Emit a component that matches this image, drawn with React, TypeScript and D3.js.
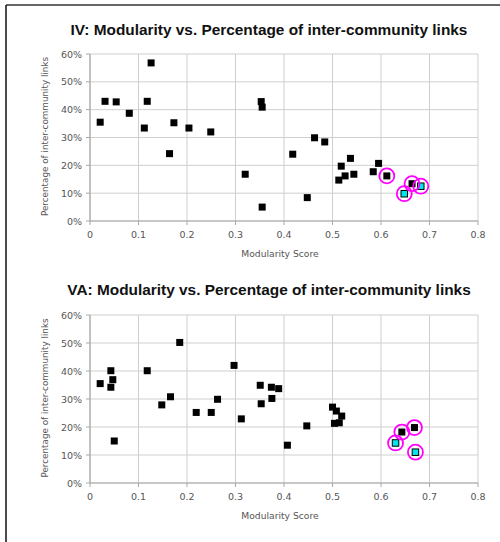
import React from "react";
import * as d3 from "d3";

// ---- data ----
const ivX = [0.021, 0.031, 0.054, 0.081, 0.112, 0.118, 0.126, 0.164, 0.173, 0.204, 0.249, 0.32, 0.353, 0.355, 0.355, 0.418, 0.448, 0.463, 0.484, 0.513, 0.518, 0.526, 0.537, 0.544, 0.584, 0.595, 0.612, 0.664];
const ivY = [35.5, 43, 42.8, 38.7, 33.4, 43, 56.8, 24.2, 35.3, 33.4, 32, 16.8, 42.9, 40.9, 5, 24, 8.4, 29.9, 28.4, 14.7, 19.7, 16.2, 22.5, 16.8, 17.7, 20.7, 16.2, 13.4];
const ivHighX = [0.648, 0.682];
const ivHighY = [9.8, 12.5];
const ivCircledX = [0.612, 0.664, 0.648, 0.682];
const ivCircledY = [16.2, 13.4, 9.8, 12.5];

const vaX = [0.021, 0.043, 0.043, 0.047, 0.05, 0.118, 0.148, 0.166, 0.185, 0.219, 0.25, 0.263, 0.297, 0.312, 0.351, 0.353, 0.374, 0.389, 0.375, 0.407, 0.447, 0.5, 0.508, 0.519, 0.514, 0.504, 0.643, 0.669];
const vaY = [35.5, 40.1, 34.2, 36.9, 15, 40.1, 27.9, 30.8, 50.2, 25.2, 25.2, 29.9, 42, 22.9, 34.9, 28.3, 34.2, 33.7, 30.2, 13.5, 20.4, 27.1, 25.7, 23.9, 21.5, 21.3, 18.2, 19.8];
const vaHighX = [0.63, 0.671];
const vaHighY = [14.3, 11];
const vaCircledX = [0.643, 0.669, 0.63, 0.671];
const vaCircledY = [18.2, 19.8, 14.3, 11];

const xTicks = [0, 0.1, 0.2, 0.3, 0.4, 0.5, 0.6, 0.7, 0.8];
const yTicks = [0, 10, 20, 30, 40, 50, 60];
const titles = [
  "IV: Modularity vs. Percentage of inter-community links",
  "VA: Modularity vs. Percentage of inter-community links",
];
const xLabel = "Modularity Score";
const yLabel = "Percentage of inter-community links";

const FONT = "'DejaVu Sans', Verdana, sans-serif";
const TFONT = "'Liberation Sans', Arial, sans-serif";

type ChartProps = {
  top: number;
  bottom: number;
  titleY: number;
  title: string;
  xs: number[];
  ys: number[];
  hx: number[];
  hy: number[];
  cx: number[];
  cy: number[];
};

function Chart({ top, bottom, titleY, title, xs, ys, hx, hy, cx, cy }: ChartProps) {
  const x = d3.scaleLinear().domain([0, 0.8]).range([90, 478]);
  const y = d3.scaleLinear().domain([0, 60]).range([bottom, top]);
  const sq = 7;
  const hs = 6.5;
  return (
    <g>
      <text x={269} y={titleY} textAnchor="middle" fontFamily={TFONT} fontWeight="bold" fontSize={15.4} fill="#111">
        {title}
      </text>
      {xTicks.map((t) => (
        <line key={"gx" + t} x1={x(t)} x2={x(t)} y1={y(60)} y2={y(0)} stroke="#cfcfcf" strokeWidth={1} />
      ))}
      {yTicks.map((t) => (
        <line key={"gy" + t} x1={x(0)} x2={x(0.8)} y1={y(t)} y2={y(t)} stroke="#cfcfcf" strokeWidth={1} />
      ))}
      <line x1={x(0)} x2={x(0)} y1={y(60)} y2={y(0)} stroke="#a8a8a8" strokeWidth={1.2} />
      <line x1={x(0)} x2={x(0.8)} y1={y(0)} y2={y(0)} stroke="#a8a8a8" strokeWidth={1.2} />
      {yTicks.map((t) => (
        <g key={"ty" + t}>
          <line x1={x(0) - 4} x2={x(0)} y1={y(t)} y2={y(t)} stroke="#a8a8a8" />
          <text x={82} y={y(t) + 3.5} textAnchor="end" fontFamily={FONT} fontSize={9.5} fill="#555">
            {t + "%"}
          </text>
        </g>
      ))}
      {xTicks.map((t) => (
        <g key={"tx" + t}>
          <line x1={x(t)} x2={x(t)} y1={y(0)} y2={y(0) + 4} stroke="#a8a8a8" />
          <text x={x(t)} y={y(0) + 17} textAnchor="middle" fontFamily={FONT} fontSize={9.5} fill="#555">
            {String(t)}
          </text>
        </g>
      ))}
      <text x={280} y={y(0) + 36} textAnchor="middle" fontFamily={FONT} fontSize={9.2} fill="#555">
        {xLabel}
      </text>
      <text
        transform={`translate(48,${(y(0) + y(60)) / 2 - 1}) rotate(-90)`}
        textAnchor="middle"
        fontFamily={FONT}
        fontSize={8.8}
        fill="#555"
      >
        {yLabel}
      </text>
      {xs.map((v, i) => (
        <rect key={"p" + i} x={x(v) - sq / 2} y={y(ys[i]) - sq / 2} width={sq} height={sq} fill="#000" />
      ))}
      {hx.map((v, i) => (
        <rect key={"h" + i} x={x(v) - hs / 2} y={y(hy[i]) - hs / 2} width={hs} height={hs} fill="#00e5ee" stroke="#000" strokeWidth={1} />
      ))}
      {cx.map((v, i) => (
        <circle key={"c" + i} cx={x(v)} cy={y(cy[i])} r={7.5} fill="none" stroke="#ff00ff" strokeWidth={1.8} />
      ))}
    </g>
  );
}

export default function App() {
  return (
    <svg width={500} height={542} style={{ position: "absolute", left: 0, top: 0, background: "#fff" }}>
      <rect x={0} y={0} width={500} height={542} fill="#fff" />
      <line x1={6} x2={500} y1={5} y2={5} stroke="#333" strokeWidth={1.5} />
      <line x1={6} x2={6} y1={5} y2={542} stroke="#111" strokeWidth={1.5} />
      <Chart top={54} bottom={221} titleY={35} title={titles[0]} xs={ivX} ys={ivY} hx={ivHighX} hy={ivHighY} cx={ivCircledX} cy={ivCircledY} />
      <Chart top={315} bottom={483} titleY={295} title={titles[1]} xs={vaX} ys={vaY} hx={vaHighX} hy={vaHighY} cx={vaCircledX} cy={vaCircledY} />
    </svg>
  );
}
